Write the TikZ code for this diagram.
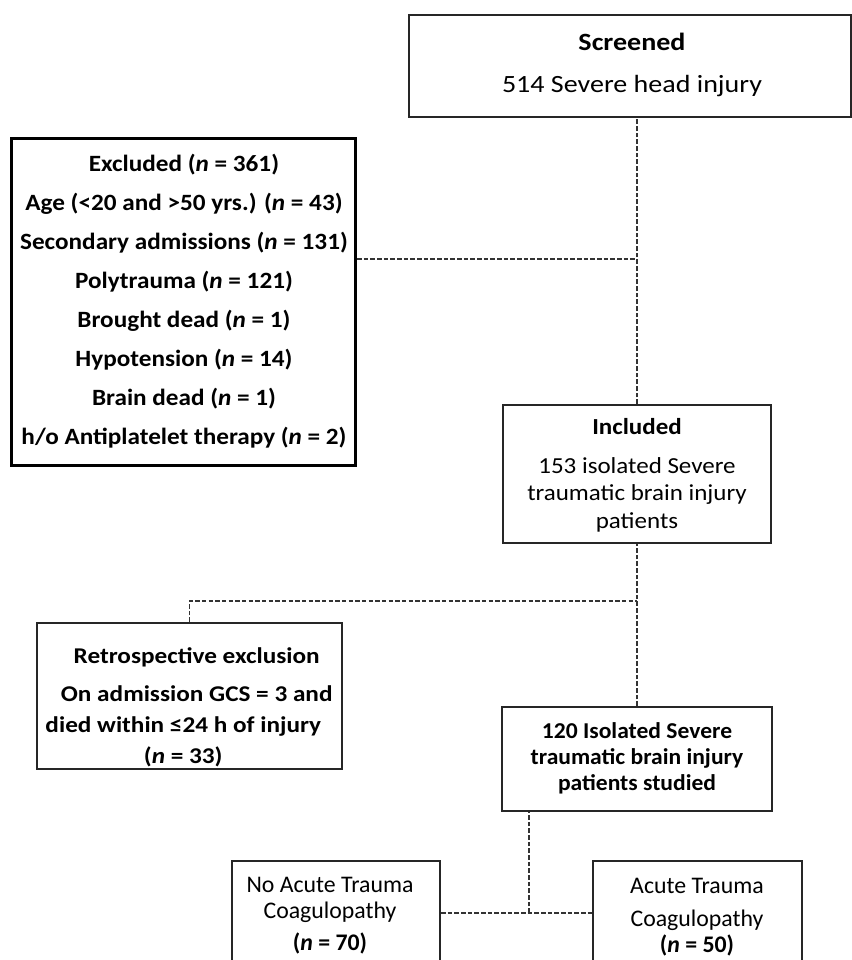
\documentclass[tikz,border=0pt]{standalone}
\usepackage{fontspec}
\setmainfont{Carlito}
\usepackage{graphicx}
\newcommand{\ctext}[3]{\scalebox{#1}[1]{#2\begin{tabular}{@{}c@{}}#3\end{tabular}}}
\newcommand{\nn}{\textit{n}}
\begin{document}
\begin{tikzpicture}[x=0.75pt,y=-0.75pt,
  box/.style={draw=black!85, line width=1.5pt, inner sep=0pt},
  thickbox/.style={draw=black, line width=2.3pt, inner sep=0pt},
  conn/.style={draw=black!80, line width=1.1pt, dash pattern=on 3.4pt off 1.6pt},
  txt/.style={inner sep=0pt, text=black}]
\useasboundingbox (0,0) rectangle (852,960);
\clip (0,0) rectangle (852,960);
% boxes
\node[box, minimum width=331.5pt, minimum height=76.5pt] (scr) at (630,66) {};
\node[thickbox, minimum width=258pt, minimum height=245.25pt] (excl) at (183.5,302) {};
\node[box, minimum width=201pt, minimum height=103.5pt] (incl) at (637,474) {};
\node[box, minimum width=228.75pt, minimum height=109.5pt] (retro) at (189.5,696) {};
\node[box, minimum width=202.5pt, minimum height=78pt] (stud) at (637,759) {};
\node[box, minimum width=156pt, minimum height=79.5pt] (noatc) at (336,914) {};
\node[box, minimum width=156.75pt, minimum height=81.75pt] (atc) at (697.5,915.5) {};
% texts
\node[txt] (scrt) at (632,63) {\ctext{1.13}{\fontsize{18.6pt}{31.5pt}\selectfont}{\textbf{Screened}\\514 Severe head injury}};
\node[txt] (exclt) at (184,300.5) {\ctext{1.08}{\fontsize{17.5pt}{29.25pt}\selectfont\bfseries}{Excluded (\nn{} = 361)\\Age (<20 and >50 yrs.) (\nn{} = 43)\\Secondary admissions (\nn{} = 131)\\Polytrauma (\nn{} = 121)\\Brought dead (\nn{} = 1)\\Hypotension (\nn{} = 14)\\Brain dead (\nn{} = 1)\\h/o Antiplatelet therapy (\nn{} = 2)}};
\node[txt] (inclt) at (637,476) {\ctext{1.09}{\fontsize{17.2pt}{20.6pt}\selectfont}{\textbf{Included}\\[8.6pt]153 isolated Severe\\traumatic brain injury\\patients}};
\node[txt] (retrot) at (190,707) {\ctext{1.12}{\fontsize{16.9pt}{23.25pt}\selectfont\bfseries}{\hspace*{9pt}Retrospective exclusion\\[5.25pt]\hspace*{9pt}On admission GCS = 3 and\\died within ≤24 h of injury\hspace*{9pt}\\(\nn{} = 33)\hspace*{9pt}}};
\node[txt] (studt) at (637,759) {\ctext{1.04}{\fontsize{17pt}{19.5pt}\selectfont\bfseries}{120 Isolated Severe\\traumatic brain injury\\patients studied}};
\node[txt] (noatct) at (330,916) {\ctext{1.0}{\fontsize{17.85pt}{19.5pt}\selectfont}{No Acute Trauma\\Coagulopathy\\[4.5pt]\textbf{(\nn{} = 70)}}};
\node[txt] (atct) at (697,917.5) {\ctext{1.0}{\fontsize{17.85pt}{19.5pt}\selectfont}{Acute Trauma\\[5.25pt]Coagulopathy\\\textbf{(\nn{} = 50)}}};
% connectors
\coordinate (j1) at (637,259);
\coordinate (j2) at (637,601);
\coordinate (j3) at (529,913);
\draw[conn] (incl.north) -- (incl.north |- scr.south);
\draw[conn] (excl.east |- j1) -- (j1);
\draw[conn] (stud.north) -- (incl.south);
\draw[conn] (retro.north) |- (j2);
\draw[conn] (j3) -- (j3 |- stud.south);
\draw[conn] (noatc.east |- j3) -- (atc.west |- j3);
\end{tikzpicture}
\end{document}
